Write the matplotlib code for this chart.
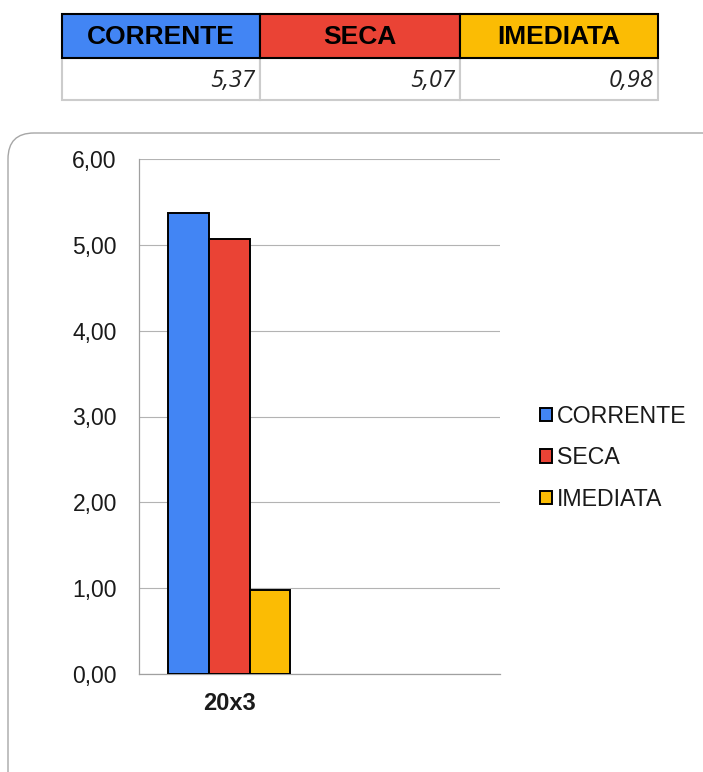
import matplotlib.pyplot as plt
from matplotlib.patches import FancyBboxPatch, Rectangle

# data
categories = ["20x3"]
series = ["CORRENTE", "SECA", "IMEDIATA"]
values = [5.37, 5.07, 0.98]
colors = ["#4285F4", "#EA4335", "#FBBC04"]
yticks = [0, 1, 2, 3, 4, 5, 6]

def br(v):
    return f"{v:.2f}".replace(".", ",")

plt.rcParams['font.family'] = ['Liberation Sans', 'DejaVu Sans']

fig = plt.figure(figsize=(7.03, 7.72), dpi=100)

# background layer in pixel coords (frame + table)
bg = fig.add_axes([0, 0, 1, 1], zorder=0)
bg.set_xlim(0, 703)
bg.set_ylim(772, 0)
bg.axis("off")

frame = FancyBboxPatch((8, 133), 720, 700, boxstyle="round,pad=0,rounding_size=26",
                       facecolor="white", edgecolor="#a6a6a6", linewidth=1.0)
bg.add_patch(frame)

# table
col_x = [62, 260, 460, 658]
for i, name in enumerate(series):
    x0, x1 = col_x[i], col_x[i + 1]
    bg.add_patch(Rectangle((x0, 58), x1 - x0, 42, facecolor="white",
                           edgecolor="#cccccc", linewidth=1.5))
for i, name in enumerate(series):
    x0, x1 = col_x[i], col_x[i + 1]
    bg.add_patch(Rectangle((x0, 14), x1 - x0, 44, facecolor=colors[i],
                           edgecolor="black", linewidth=1.5))
    bg.text((x0 + x1) / 2, 37, name, ha="center", va="center",
            fontsize=19, fontweight="bold", color="black")
    bg.text(x1 - 5, 81, br(values[i]), ha="right", va="center",
            fontsize=17, style="italic", family=["Open Sans", "DejaVu Sans"], color="#222222")

# chart
ax = fig.add_axes([139 / 703, 1 - 674 / 772, 361 / 703, 515 / 772], zorder=1)
ax.patch.set_alpha(0)
width = 0.225
for i, name in enumerate(series):
    ax.bar(0 + (i - 1) * width, values[i], width=width, color=colors[i],
           edgecolor="black", linewidth=1.4, label=name, zorder=3)

ax.set_xlim(-0.5, 1.5)
ax.set_ylim(0, 6)
ax.set_yticks(yticks)
ax.set_yticklabels([br(v) for v in yticks], fontsize=16.5, color="#1a1a1a")
ax.set_xticks([0])
ax.set_xticklabels(categories, fontsize=17, fontweight="bold", color="#1a1a1a")
ax.tick_params(axis="y", length=0, pad=16)
ax.tick_params(axis="x", length=0, pad=13)
ax.grid(axis="y", color="#b3b3b3", linewidth=0.8, zorder=0)
for s in ["top", "right"]:
    ax.spines[s].set_visible(False)
for s in ["left", "bottom"]:
    ax.spines[s].set_color("#a0a0a0")
    ax.spines[s].set_linewidth(0.9)

leg = ax.legend(loc="center left", bbox_to_anchor=(1.085, 0.42), frameon=False,
                fontsize=16.7, handlelength=0.5, handleheight=0.5, handletextpad=0.25,
                labelspacing=0.8, borderaxespad=0)
for t in leg.get_texts():
    t.set_color("#1a1a1a")

fig.savefig("out.png", dpi=100)
